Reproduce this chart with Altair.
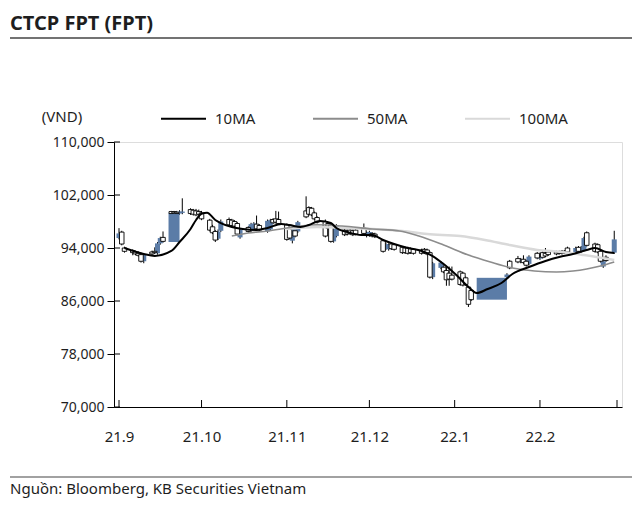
import pandas as pd
import altair as alt

# ---------------- data ----------------
dates = ["2021-09-01","2021-09-02","2021-09-03","2021-09-06","2021-09-07","2021-09-08","2021-09-09","2021-09-10",
         "2021-09-13","2021-09-14","2021-09-15","2021-09-16","2021-09-17","2021-09-20","2021-09-21","2021-09-22",
         "2021-09-23","2021-09-24","2021-09-27","2021-09-28","2021-09-29","2021-09-30","2021-10-01","2021-10-04",
         "2021-10-05","2021-10-06","2021-10-07","2021-10-08","2021-10-11","2021-10-12","2021-10-13","2021-10-14",
         "2021-10-15","2021-10-18","2021-10-19","2021-10-20","2021-10-21","2021-10-22","2021-10-25","2021-10-26",
         "2021-10-27","2021-10-28","2021-10-29","2021-11-01","2021-11-02","2021-11-03","2021-11-04","2021-11-05",
         "2021-11-08","2021-11-09","2021-11-10","2021-11-11","2021-11-12","2021-11-15","2021-11-16","2021-11-17",
         "2021-11-18","2021-11-19","2021-11-22","2021-11-23","2021-11-24","2021-11-25","2021-11-26","2021-11-29",
         "2021-11-30","2021-12-01","2021-12-02","2021-12-03","2021-12-06","2021-12-07","2021-12-08","2021-12-09",
         "2021-12-10","2021-12-13","2021-12-14","2021-12-15","2021-12-16","2021-12-17","2021-12-20","2021-12-21",
         "2021-12-22","2021-12-23","2021-12-24","2021-12-27","2021-12-28","2021-12-29","2021-12-30","2021-12-31",
         "2022-01-03","2022-01-04","2022-01-05","2022-01-06","2022-01-07","2022-01-20","2022-01-21","2022-01-24",
         "2022-01-25","2022-01-26","2022-01-27","2022-01-28","2022-01-31","2022-02-01","2022-02-02","2022-02-03",
         "2022-02-04","2022-02-07","2022-02-08","2022-02-09","2022-02-10","2022-02-11","2022-02-14","2022-02-15",
         "2022-02-16","2022-02-17","2022-02-18","2022-02-21","2022-02-22","2022-02-23","2022-02-24","2022-02-25",
         "2022-02-28"]
opens = [95500,96400,94000,93600,93400,93200,93000,92000,93400,93500,93200,94700,95600,99500,99500,99400,
         99200,99300,99800,99700,99600,99500,99300,98200,97200,96500,95400,96600,98300,98200,98000,97700,
         95600,97100,96600,96900,97600,97400,96500,96800,98300,98400,98300,97500,96800,95100,96600,96500,
         99600,100100,100000,99300,98600,98000,97700,97500,95000,95800,96700,96600,96700,96600,96700,97000,
         95800,95900,96200,96100,95100,93900,93800,94600,94500,94100,94000,94000,93900,93800,93700,93800,
         93700,93300,89600,91000,91100,90600,90200,89900,90400,90200,89500,88100,87600,89600,92000,92400,
         91900,92300,92000,91600,93200,92400,93300,93200,93400,93400,93400,93500,93500,94000,93400,94100,
         93500,93700,96300,94600,94500,93500,91200,92600,93300]
highs = [97000,96600,94200,93800,93600,93500,93300,93200,93600,94100,94900,95700,96500,99600,99600,99600,
         99700,101500,100000,99900,99900,99800,99600,98400,97500,96700,96800,98300,98600,98400,98200,97900,
         97000,97300,97800,97900,98900,97600,98300,98400,98500,99600,99500,97700,97000,97200,96800,98100,
         101800,100300,100200,99500,98800,98300,97900,97700,97300,97600,96900,96800,96900,96800,96900,97700,
         96500,96600,96400,96300,95300,94800,94700,94800,94700,94300,94200,94200,94100,94000,93900,94000,
         93900,93500,91900,92000,91500,91100,91200,91200,90600,90400,89700,88300,87800,90200,92200,92800,
         92500,92900,92200,92900,93400,93300,93500,94000,93600,93600,93600,93700,93700,94200,94200,94300,
         94300,95700,96500,94800,94700,93700,92200,92900,96600]
lows = [95300,94400,93300,92900,92900,92700,91800,91700,92900,93100,93000,94500,94800,99000,99100,99000,
        99000,99100,99000,98900,98800,98900,98200,96500,96100,94900,95200,96400,97300,97200,97100,95900,
        95400,96300,96400,96700,96700,96500,96300,96600,97600,97700,97500,95100,95300,94700,95600,96300,
        98500,98900,98800,98200,97700,95600,96800,94800,94800,95600,95800,95900,96000,95800,95900,96000,
        95600,95700,95600,95500,93300,93700,93600,93700,93600,93100,93100,93000,93100,93000,93000,93100,
        92900,89400,89300,90800,90200,88300,88300,89100,88300,88200,88300,85100,86000,89400,90800,91700,
        91700,91600,91200,91400,92300,92200,92400,92600,92800,92900,93000,93000,93100,93200,93200,93300,
        93300,93500,94200,93300,93200,91800,91000,91900,93100]
closes = [96200,94600,93500,93300,93100,92900,92000,93000,93100,93300,94700,95500,95000,99200,99300,99200,
          99500,99500,99200,99100,99000,99100,98400,96700,96300,95200,96500,98000,97500,97400,97300,96100,
          96800,96500,97600,97700,96900,96700,98100,98200,97800,97900,97700,95300,95500,97000,95800,97900,
          98700,99100,99000,98400,97900,95800,97000,95000,97000,97400,96000,96100,96200,96000,96100,96200,
          96300,96400,95800,95700,93500,94600,94500,93900,93800,93300,93300,93200,93300,93200,93200,93300,
          93100,89600,91700,91800,90400,89200,89300,89300,88500,88400,88500,85500,86200,90000,91000,91900,
          92300,91800,91400,92700,92500,93100,92600,92800,93000,93100,93200,93200,93300,93400,94000,93500,
          94100,95500,94400,93500,93400,92000,92000,92100,95300]

block_start = ["2021-09-19", "2022-01-09"]
block_end = ["2021-09-23", "2022-01-20"]
block_low = [94900, 86200]
block_high = [99300, 89500]

ma10_dates = ["2021-09-03","2021-09-10","2021-09-14","2021-09-20","2021-09-23","2021-09-27","2021-09-29","2021-10-01",
              "2021-10-03","2021-10-06","2021-10-08","2021-10-12","2021-10-16","2021-10-21","2021-10-25","2021-10-30",
              "2021-11-02","2021-11-06","2021-11-09","2021-11-13","2021-11-17","2021-11-19","2021-11-23","2021-11-28",
              "2021-12-02","2021-12-06","2021-12-10","2021-12-15","2021-12-20","2021-12-24","2021-12-28","2022-01-02",
              "2022-01-06","2022-01-09","2022-01-13","2022-01-18","2022-01-22","2022-01-28","2022-02-03","2022-02-08",
              "2022-02-13","2022-02-18","2022-02-21","2022-02-25","2022-02-28"]
ma10_values = [94000,93100,92800,93550,94900,96870,98230,99170,99320,98230,97770,97170,96870,96720,97020,97620,
               97470,97170,97470,98080,97770,97020,96420,95960,95960,95210,94600,94000,93550,92790,91580,89770,
               88110,87210,87810,88720,90080,91130,92040,92640,93090,93700,94000,93400,93240]

ma50_dates = ["2021-10-12","2021-10-18","2021-10-25","2021-11-01","2021-11-06","2021-11-12","2021-11-21","2021-12-02",
              "2021-12-12","2021-12-19","2021-12-28","2022-01-06","2022-01-14","2022-01-22","2022-01-30","2022-02-07",
              "2022-02-13","2022-02-18","2022-02-23","2022-02-28"]
ma50_values = [95810,96270,96570,97020,97320,97500,97320,96870,96570,95810,94450,92940,91890,90980,90530,90380,
               90530,90830,91280,91890]

ma100_dates = ["2021-11-01","2021-11-12","2021-11-22","2021-12-02","2021-12-13","2021-12-22","2022-01-03","2022-01-12",
               "2022-01-21","2022-01-31","2022-02-09","2022-02-17","2022-02-28"]
ma100_values = [96870,97170,97020,96870,96570,96110,95810,95210,94450,93700,93400,92940,92190]

series_names = ["10MA", "50MA", "100MA"]
series_colors = ["#000000", "#8c8c8c", "#d9d9d9"]

y_ticks = [70000, 78000, 86000, 94000, 102000, 110000]
month_ticks = ["2021-09-01","2021-10-01","2021-11-01","2021-12-01","2022-01-01","2022-02-01","2022-03-01"]

# ---------------- frames ----------------
W, H = 508, 265
BLUE = "#5b7ca7"
FONT = "Noto Sans"
TXT = "#1e1e1e"

candles = pd.DataFrame(dict(date=dates, open=opens, high=highs, low=lows, close=closes))
candles["up"] = candles["close"] >= candles["open"]
blocks = pd.DataFrame(dict(start=block_start, end=block_end, low=block_low, high=block_high))
ma = pd.concat([
    pd.DataFrame(dict(date=ma10_dates, value=ma10_values, series="10MA")),
    pd.DataFrame(dict(date=ma50_dates, value=ma50_values, series="50MA")),
    pd.DataFrame(dict(date=ma100_dates, value=ma100_values, series="100MA")),
])


def dt(s):
    y, m, d = (int(p) for p in s.split("-"))
    return alt.DateTime(year=y, month=m, date=d, utc=True)


xscale = alt.Scale(type="utc", domain=[dt("2021-09-01"), dt("2022-03-01")])
yscale = alt.Scale(domain=[70000, 110000], nice=False, zero=False)

xaxis = alt.Axis(values=[dt(s) for s in month_ticks[:-1]], format="%y.%-m", tickSize=0,
                 labelPadding=22, labelFontSize=15, labelFont=FONT, labelColor=TXT,
                 domainColor="#000", domainWidth=1, grid=False, title=None, labelFlush=False)
yaxis = alt.Axis(values=y_ticks, format=",.0f", tickSize=7, tickColor="#000", labelPadding=3,
                 labelFontSize=14, labelFont=FONT, labelColor=TXT, domainColor="#000",
                 grid=False, title=None)

X = alt.X("date:T", scale=xscale, axis=xaxis)

wicks = alt.Chart(candles).mark_rule(color="#000", strokeWidth=1).encode(
    x=X, y=alt.Y("low:Q", scale=yscale, axis=yaxis), y2="high:Q")
up_bodies = alt.Chart(candles).transform_filter("datum.up").mark_bar(size=5, color=BLUE).encode(
    x="date:T", y="open:Q", y2="close:Q")
down_bodies = alt.Chart(candles).transform_filter("!datum.up").mark_bar(
    size=4.5, fill="white", stroke="#000", strokeWidth=0.9).encode(
    x="date:T", y="open:Q", y2="close:Q")
block_layer = alt.Chart(blocks).mark_rect(color=BLUE).encode(
    x="start:T", x2="end:T", y="low:Q", y2="high:Q")

color = alt.Color("series:N", scale=alt.Scale(domain=series_names, range=series_colors),
                  legend=alt.Legend(orient="none", legendX=46, legendY=-47, direction="horizontal",
                                    columns=3, symbolType="stroke", symbolSize=2025,
                                    symbolStrokeWidth=2, labelFontSize=15, labelFont=FONT,
                                    labelColor=TXT, labelOffset=8, columnPadding=53,
                                    title=None, padding=0))


def ma_line(name, width):
    return alt.Chart(ma).transform_filter(alt.datum.series == name).mark_line(
        interpolate="monotone", strokeWidth=width).encode(x="date:T", y="value:Q", color=color)


lines = [ma_line("100MA", 2.5), ma_line("50MA", 1.6), ma_line("10MA", 2)]

ytick_in = alt.Chart(pd.DataFrame(dict(v=y_ticks))).mark_rule(color="#000").encode(
    y="v:Q", x=alt.value(0), x2=alt.value(6))
xtick_in = alt.Chart(pd.DataFrame(dict(d=month_ticks))).mark_rule(color="#000").encode(
    x="d:T", y=alt.value(H), y2=alt.value(H - 7))

one = pd.DataFrame(dict(t=["CTCP FPT (FPT)"]))
title = alt.Chart(one).mark_text(align="left", baseline="alphabetic", font=FONT, fontSize=20,
                                 fontWeight="bold", color=TXT).encode(
    x=alt.value(-104), y=alt.value(-112.5), text="t:N")
title_rule = alt.Chart(one).mark_rule(color="#444", strokeWidth=1.5).encode(
    x=alt.value(-104), x2=alt.value(518), y=alt.value(-104))
unit = alt.Chart(pd.DataFrame(dict(t=["(VND)"]))).mark_text(
    align="center", baseline="middle", font=FONT, fontSize=15, color=TXT).encode(
    x=alt.value(-52), y=alt.value(-25), text="t:N")
foot_rule = alt.Chart(one).mark_rule(color="#444", strokeWidth=1.2).encode(
    x=alt.value(-104), x2=alt.value(518), y=alt.value(335))
foot = alt.Chart(pd.DataFrame(dict(t=["Nguồn: Bloomberg, KB Securities Vietnam"]))).mark_text(
    align="left", baseline="alphabetic", font=FONT, fontSize=15, color=TXT).encode(
    x=alt.value(-104), y=alt.value(352), text="t:N")

chart = alt.layer(
    wicks, block_layer, up_bodies, down_bodies, *lines, ytick_in, xtick_in,
    title, title_rule, unit, foot_rule, foot
).properties(
    width=W, height=H,
    autosize=alt.AutoSizeParams(type="none"),
    padding={"left": 106, "top": 134, "right": 10, "bottom": 91},
).configure_view(stroke=None).configure(background="white")

chart.save("out.html", embed_options={"renderer": "svg", "actions": False})
